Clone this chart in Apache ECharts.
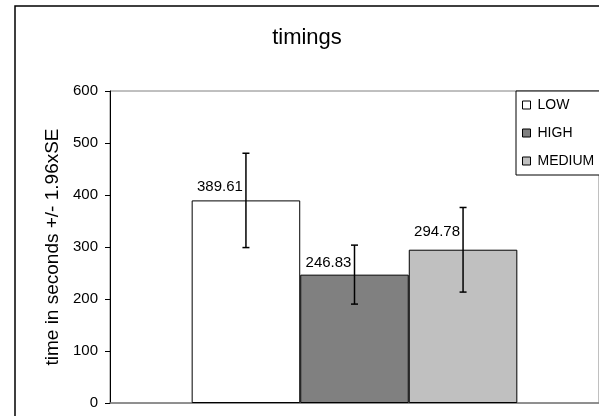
<!DOCTYPE html>
<html>
<head>
<meta charset="utf-8">
<script src="https://cdn.jsdelivr.net/npm/echarts@6/dist/echarts.min.js"></script>
<style>
html,body{margin:0;padding:0;background:#fff;}
#chart{width:599px;height:416px;}
</style>
</head>
<body>
<div id="chart"></div>
<script>
var categories = [''];
var seriesNames = ['LOW', 'HIGH', 'MEDIUM'];
var means = [389.61, 246.83, 294.78];
var errLower = [298.9, 190.2, 213.3];
var errUpper = [480.3, 303.6, 376.0];
var yTicks = [0, 100, 200, 300, 400, 500, 600];

var colors = ['#ffffff', '#808080', '#c0c0c0'];
var labelOffsets = [[-26, -1], [-26, 1], [-26, -5]];
var FONT = 'Liberation Sans, Arial, sans-serif';

var chart = echarts.init(document.getElementById('chart'));

var series = seriesNames.map(function (name, i) {
  return {
    name: name,
    type: 'bar',
    data: [means[i]],
    barGap: '0%',
    barCategoryGap: '33.4%',
    itemStyle: { color: colors[i], borderColor: '#000', borderWidth: 1 },
    label: {
      show: true,
      position: 'top',
      offset: labelOffsets[i],
      color: '#000',
      fontFamily: FONT,
      fontSize: 15,
      formatter: function (p) { return p.value.toFixed(2); }
    },
    emphasis: { disabled: true },
    silent: true,
    z: 2
  };
});

series.push({
  type: 'custom',
  name: 'err',
  silent: true,
  z: 5,
  data: seriesNames.map(function (n, i) { return [0, errLower[i], errUpper[i], i]; }),
  encode: { x: 0, y: [1, 2] },
  renderItem: function (params, api) {
    var idx = api.value(3);
    var bandW = api.size([1, 0])[0];
    var barW = bandW * (1 - 0.334) / 3;
    var lo = api.coord([api.value(0), api.value(1)]);
    var hi = api.coord([api.value(0), api.value(2)]);
    var x = lo[0] + (idx - 1) * barW;
    var cap = 3.5;
    var st = { stroke: '#000', lineWidth: 1.5 };
    return {
      type: 'group',
      children: [
        { type: 'line', shape: { x1: x, y1: lo[1], x2: x, y2: hi[1] }, style: st },
        { type: 'line', shape: { x1: x - cap, y1: lo[1], x2: x + cap, y2: lo[1] }, style: st },
        { type: 'line', shape: { x1: x - cap, y1: hi[1], x2: x + cap, y2: hi[1] }, style: st }
      ]
    };
  }
});

chart.setOption({
  animation: false,
  backgroundColor: '#fff',
  title: {
    text: 'timings',
    left: 302,
    top: 22,
    textAlign: 'center',
    textStyle: { fontFamily: FONT, fontSize: 22, fontWeight: 'normal', color: '#000' }
  },
  graphic: [{
    type: 'rect',
    shape: { x: 15, y: 6, width: 620, height: 440 },
    style: { fill: 'none', stroke: '#000', lineWidth: 1.5 },
    silent: true,
    z: 100
  }],
  legend: {
    data: seriesNames,
    orient: 'vertical',
    left: 516,
    top: 91,
    padding: [7, 6, 7, 6],
    itemGap: 14,
    itemWidth: 8,
    itemHeight: 8,
    icon: 'rect',
    backgroundColor: '#fff',
    borderColor: '#000',
    borderWidth: 1,
    borderRadius: 0,
    itemStyle: { borderColor: '#000', borderWidth: 1 },
    textStyle: { fontFamily: FONT, fontSize: 14, color: '#000', padding: [0, 0, 0, 2] },
    selectedMode: false
  },
  grid: {
    left: 110, top: 91, width: 491, height: 312,
    show: true, borderColor: '#808080', borderWidth: 1, backgroundColor: 'transparent'
  },
  xAxis: {
    type: 'category',
    data: categories,
    axisLine: { lineStyle: { color: '#808080', width: 1.5 } },
    axisTick: { show: false },
    axisLabel: { show: false }
  },
  yAxis: {
    type: 'value',
    min: yTicks[0],
    max: yTicks[yTicks.length - 1],
    interval: 100,
    name: 'time in seconds +/- 1.96xSE',
    nameLocation: 'middle',
    nameRotate: 90,
    nameGap: 46,
    nameTextStyle: { fontFamily: FONT, fontSize: 19, color: '#000' },
    axisLine: { show: true, lineStyle: { color: '#000', width: 1 } },
    axisTick: { show: true, length: 5, lineStyle: { color: '#000' } },
    axisLabel: { fontFamily: FONT, fontSize: 15, color: '#000', margin: 12 },
    splitLine: { show: false }
  },
  series: series
});
</script>
</body>
</html>
